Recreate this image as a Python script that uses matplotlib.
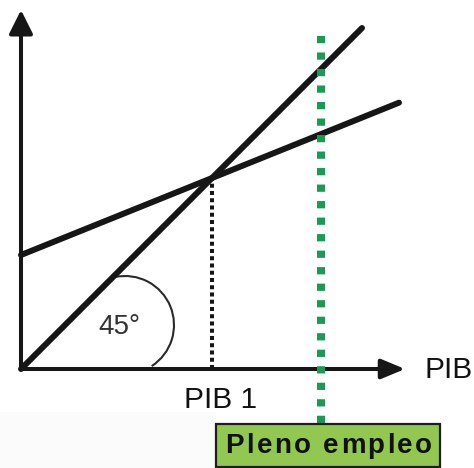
import matplotlib
matplotlib.use("Agg")
import matplotlib.pyplot as plt
from matplotlib.patches import Arc, Rectangle

plt.rcParams['font.family'] = ['Liberation Sans', 'DejaVu Sans']

# ---- data (diagram units) ----
autonomo = 114          # intercept of the aggregate demand line
pendiente = 0.403       # slope of the aggregate demand line
x_fin_demanda = 378     # right end of demand line
x_fin_45 = 341          # right end of the 45-degree line
pleno_empleo = 300      # full-employment output
eje_x_max = 384
eje_y_max = 359
verde_y = [-54, 339]    # vertical extent of the full-employment marker

etiqueta_x = "PIB"
etiqueta_pib1 = "PIB 1"
etiqueta_angulo = "45°"
etiqueta_pleno = "Pleno empleo"

pib1 = autonomo / (1 - pendiente)

fig = plt.figure(figsize=(4.74, 4.68), dpi=100)
ax = fig.add_axes([0, 0, 1, 1])
ax.set_xlim(-21, 453)
ax.set_ylim(-99, 369)
ax.axis('off')

# faint grey strip at bottom-left
ax.add_patch(Rectangle((-21, -99), 216, 56, facecolor='#fbfbfb', edgecolor='none', zorder=0))

dark = '#161616'
# axes with arrows
ax.annotate('', xy=(eje_x_max, 0), xytext=(0, 0),
            arrowprops=dict(arrowstyle='-|>,head_length=0.72,head_width=0.3', lw=2.9,
                            color=dark, shrinkA=0, shrinkB=0, mutation_scale=20), zorder=3)
ax.annotate('', xy=(0, eje_y_max), xytext=(0, 0),
            arrowprops=dict(arrowstyle='-|>,head_length=0.72,head_width=0.36', lw=2.9,
                            color=dark, shrinkA=0, shrinkB=0, mutation_scale=20), zorder=3)

# 45-degree line
ax.plot([0, x_fin_45], [0, x_fin_45], color=dark, lw=4.3, solid_capstyle='round', zorder=4)
# demand line
ax.plot([0, x_fin_demanda], [autonomo, autonomo + pendiente * x_fin_demanda],
        color=dark, lw=4.3, solid_capstyle='round', zorder=4)

# dotted vertical at PIB 1
ax.plot([pib1, pib1], [0, pib1], color=dark, lw=2.9, dashes=(1.0, 0.8), zorder=2)

# full-employment green dotted line
ax.plot([pleno_empleo, pleno_empleo], verde_y, color='#1b9a55', lw=5.8,
        dashes=(0.9, 1.15), zorder=5)

# angle arc
ax.add_patch(Arc((104, 44), 98, 98, theta1=-57, theta2=102, color='#2a2a2a', lw=1.5, zorder=3))
ax.text(98, 42, etiqueta_angulo, fontsize=20, color='#333333', ha='center', va='center')

# labels
ax.text(404, -1, etiqueta_x, fontsize=21.5, color='#111111', ha='left', va='center')
ax.text(200, -31, etiqueta_pib1, fontsize=21.5, color='#111111', ha='center', va='center')

# full-employment box
ax.add_patch(Rectangle((195, -98), 224, 43, facecolor='#92c850', edgecolor='#1e1e1e',
                       lw=1.6, zorder=6))

# letter-spaced bold text inside the box
renderer = fig.canvas.get_renderer()
fs = 20
spacing = 2.3  # pixels between letters
def text_width(s):
    if not s:
        return 0.0
    t = ax.text(0, 0, s, fontsize=fs, fontweight='bold')
    w = t.get_window_extent(renderer).width
    t.remove()
    return w
n = len(etiqueta_pleno)
total = text_width(etiqueta_pleno) + spacing * (n - 1)
x0 = 307.5 - total / 2
for i, ch in enumerate(etiqueta_pleno):
    if ch == ' ':
        continue
    xi = x0 + text_width(etiqueta_pleno[:i]) + spacing * i
    ax.text(xi, -77, ch, fontsize=fs, fontweight='bold', color='#111111',
            ha='left', va='center', zorder=7)

fig.savefig('out.png', dpi=100)
